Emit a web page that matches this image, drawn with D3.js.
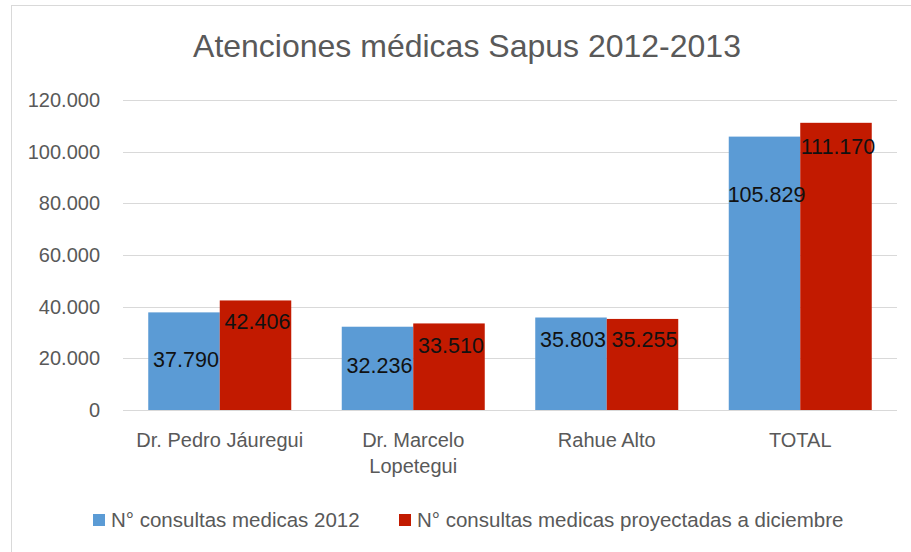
<!DOCTYPE html>
<html>
<head>
<meta charset="utf-8">
<script src="https://d3js.org/d3.v7.min.js"></script>
<title>Atenciones médicas Sapus 2012-2013</title>
<style>
body { margin: 0; background: #fff; }
text { font-family: "Liberation Sans", Arial, sans-serif; }
.grid line { stroke: #d9d9d9; stroke-width: 1px; }
.tick-label { fill: #595959; font-size: 20px; }
.cat-label { fill: #595959; font-size: 20px; }
.val-label { fill: #111; font-size: 21.5px; }
</style>
</head>
<body>
<svg class="chart"></svg>
<script>
// data
const categories = [["Dr. Pedro Jáuregui"], ["Dr. Marcelo", "Lopetegui"], ["Rahue Alto"], ["TOTAL"]]
const consultas2012 = [37790, 32236, 35803, 105829]
const proyectadas = [42406, 33510, 35255, 111170]
// where the data labels sit (in value units, as placed in the original)
const label2012At = [19500, 17400, 27300, 83600]
const labelProyAt = [34300, 25000, 27300, 102000]
const yTicks = [0, 20000, 40000, 60000, 80000, 100000, 120000]
const seriesNames = ["N° consultas medicas 2012", "N° consultas medicas proyectadas a diciembre"]
const colors = ["#5b9bd5", "#c21a00"]

const w = 911, h = 552
const svg = d3.select(".chart").attr("width", w).attr("height", h)

// chart frame
svg.append("rect").attr("x", 11.5).attr("y", 5.5).attr("width", 1000).attr("height", 1000)
    .attr("fill", "#fff").attr("stroke", "#d9d9d9")

svg.append("text").attr("x", 467).attr("y", 57).attr("text-anchor", "middle")
    .style("font-size", "32px").style("fill", "#595959")
    .text("Atenciones médicas Sapus 2012-2013")

const plotLeft = 123, plotRight = 897, plotTop = 100, plotBottom = 410
const y = d3.scaleLinear().domain([0, 120000]).range([plotBottom, plotTop])
const x0 = d3.scaleBand().domain(d3.range(categories.length)).range([plotLeft, plotRight])
    .paddingInner(0.261).paddingOuter(0.1305)
const x1 = d3.scaleBand().domain([0, 1]).range([0, x0.bandwidth()])

const fmt = d3.formatLocale({ decimal: ",", thousands: ".", grouping: [3], currency: ["", ""] }).format(",d")

// gridlines
svg.append("g").classed("grid", true).selectAll("line").data(yTicks).enter().append("line")
    .attr("x1", plotLeft).attr("x2", plotRight)
    .attr("y1", d => Math.round(y(d)) + 0.5).attr("y2", d => Math.round(y(d)) + 0.5)

// y tick labels
svg.append("g").selectAll("text").data(yTicks).enter().append("text")
    .classed("tick-label", true)
    .attr("x", 100).attr("y", d => y(d) + 7).attr("text-anchor", "end")
    .text(d => fmt(d))

// bars
const series = [consultas2012, proyectadas]
const labelsAt = [label2012At, labelProyAt]
series.forEach((vals, s) => {
    svg.append("g").selectAll("rect").data(vals).enter().append("rect")
        .attr("x", (d, i) => x0(i) + x1(s))
        .attr("width", x1.bandwidth())
        .attr("y", d => y(d))
        .attr("height", d => y(0) - y(d))
        .attr("fill", colors[s])
})
series.forEach((vals, s) => {
    svg.append("g").selectAll("text").data(vals).enter().append("text")
        .classed("val-label", true)
        .attr("x", (d, i) => x0(i) + x1(s) + x1.bandwidth() / 2 + 2)
        .attr("y", (d, i) => y(labelsAt[s][i]) + 7.5)
        .attr("text-anchor", "middle")
        .text(d => fmt(d))
})

// category labels
const cat = svg.append("g").selectAll("text").data(categories).enter().append("text")
    .classed("cat-label", true)
    .attr("x", (d, i) => x0(i) + x0.bandwidth() / 2)
    .attr("y", 447).attr("text-anchor", "middle")
cat.selectAll("tspan").data(d => d).enter().append("tspan")
    .attr("x", function () { return d3.select(this.parentNode).attr("x") })
    .attr("dy", (d, i) => i === 0 ? 0 : 26)
    .text(d => d)

// legend
const legendX = [93, 399]
seriesNames.forEach((name, s) => {
    svg.append("rect").attr("x", legendX[s]).attr("y", 514).attr("width", 12).attr("height", 12)
        .attr("fill", colors[s])
    svg.append("text").attr("x", legendX[s] + 18).attr("y", 527)
        .style("font-size", "20.5px").style("fill", "#595959")
        .text(name)
})
</script>
</body>
</html>
